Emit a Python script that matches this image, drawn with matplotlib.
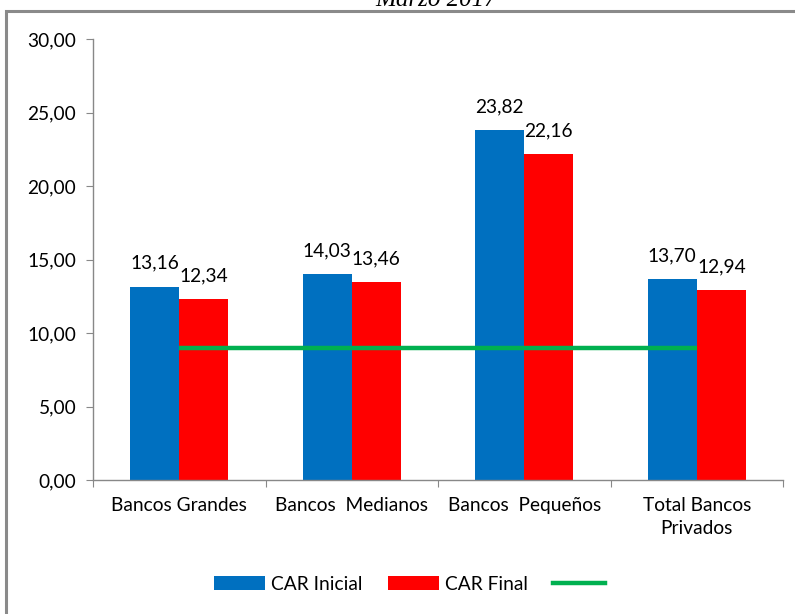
import matplotlib
matplotlib.use("Agg")
import matplotlib.pyplot as plt
from matplotlib.patches import Rectangle, Patch
from matplotlib.lines import Line2D
import numpy as np

# === Datos ===
categorias = ["Bancos Grandes", "Bancos  Medianos", "Bancos  Pequeños", "Total Bancos\nPrivados"]
car_inicial = [13.16, 14.03, 23.82, 13.70]
car_final = [12.34, 13.46, 22.16, 12.94]
minimo = [9.0, 9.0, 9.0, 9.0]
y_ticks = [0, 5, 10, 15, 20, 25, 30]

AZUL = "#0070C0"
ROJO = "#FF0000"
VERDE = "#00B050"
GRIS = "#888888"
FS = 13.8

plt.rcParams["font.family"] = ["Lato", "DejaVu Sans"]

fig = plt.figure(figsize=(7.95, 6.14), dpi=100)
ax = fig.add_axes([93 / 795, 1 - 480 / 614, 690 / 795, 441 / 614])

# marco exterior del grafico (sale por la derecha y abajo)
fig.patches.append(Rectangle((6 / 795, -0.1), 1.2, 1 - 11 / 614 + 0.1,
                             transform=fig.transFigure, fill=False,
                             edgecolor="#8a8a8a", linewidth=2.2))

fig.text(436 / 795, 1 - 6 / 614, "Marzo 2017", ha="center", va="baseline",
         family="Liberation Serif", style="italic", fontsize=18)

x = np.arange(len(categorias))
w = 0.285
b1 = ax.bar(x - w / 2, car_inicial, w, color=AZUL)
b2 = ax.bar(x + w / 2, car_final, w, color=ROJO)
ax.plot(x, minimo, color=VERDE, linewidth=3.2, solid_capstyle="butt")

for rect, v in zip(b1, car_inicial):
    ax.text(rect.get_x() + rect.get_width() / 2, v + 1.0, f"{v:.2f}".replace(".", ","),
            ha="center", va="bottom", fontsize=FS)
for rect, v in zip(b2, car_final):
    ax.text(rect.get_x() + rect.get_width() / 2, v + 1.0, f"{v:.2f}".replace(".", ","),
            ha="center", va="bottom", fontsize=FS)

ax.set_xlim(-0.5, len(categorias) - 0.5)
ax.set_ylim(0, 30)
ax.set_yticks(y_ticks)
ax.set_yticklabels([f"{t:.2f}".replace(".", ",") for t in y_ticks], fontsize=FS)

ax.set_xticks(np.arange(len(categorias) + 1) - 0.5)
ax.set_xticklabels([])
ax.set_xticks(x, minor=True)
ax.set_xticklabels(categorias, minor=True, fontsize=FS, linespacing=1.45)
ax.tick_params(axis="x", which="minor", length=0, pad=12)
ax.tick_params(axis="x", which="major", length=5, color=GRIS, direction="out")
ax.tick_params(axis="y", length=5, color=GRIS, pad=7)

for s in ["top", "right"]:
    ax.spines[s].set_visible(False)
for s in ["left", "bottom"]:
    ax.spines[s].set_color(GRIS)
    ax.spines[s].set_linewidth(1)

handles = [Patch(facecolor=AZUL), Patch(facecolor=ROJO),
           Line2D([0], [0], color=VERDE, linewidth=3.2)]
fig.legend(handles, ["CAR Inicial", "CAR Final", ""], loc="center",
           bbox_to_anchor=(412 / 795, 1 - 584 / 614), ncol=3, frameon=False,
           fontsize=FS, handlelength=2.7, handleheight=0.7, columnspacing=1.3,
           handletextpad=0.3)

fig.savefig("out.png", dpi=100)
